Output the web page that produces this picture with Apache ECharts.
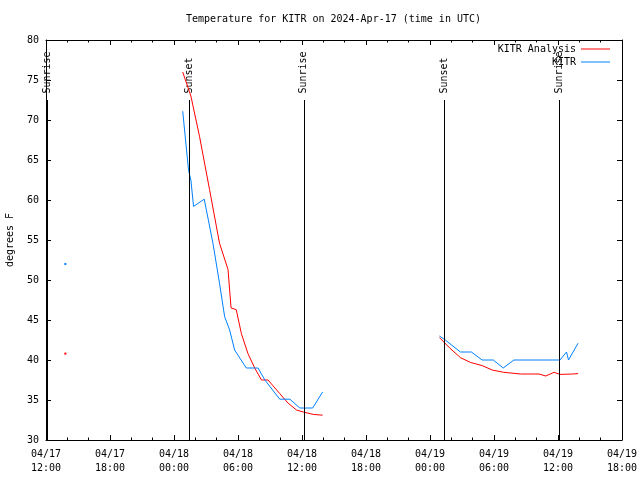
<!DOCTYPE html>
<html><head><meta charset="utf-8">
<script src="https://cdn.jsdelivr.net/npm/echarts@6/dist/echarts.min.js"></script>
<style>html,body{margin:0;padding:0;background:#fff}#c{width:640px;height:480px}</style>
</head><body><div id="c"></div>
<script>
const titleText = 'Temperature for KITR on 2024-Apr-17 (time in UTC)';
const yAxisName = 'degrees F';
const xStart = '2024-04-17T12:00';
const xEnd = '2024-04-19T18:00';
const yMin = 30, yMax = 80, yStep = 5;

// KITR Analysis (red); null = gap
const anaTimes = [
  '2024-04-18T00:49','2024-04-18T01:35','2024-04-18T02:24','2024-04-18T03:20','2024-04-18T04:16',
  '2024-04-18T05:04','2024-04-18T05:21','2024-04-18T05:50','2024-04-18T06:19','2024-04-18T06:56',
  '2024-04-18T07:34','2024-04-18T08:12','2024-04-18T08:49','2024-04-18T09:55','2024-04-18T10:42',
  '2024-04-18T11:29','2024-04-18T12:07','2024-04-18T13:03','2024-04-18T13:56',
  '2024-04-18T18:00',
  '2024-04-19T00:53','2024-04-19T01:51','2024-04-19T02:51','2024-04-19T03:47','2024-04-19T04:53',
  '2024-04-19T05:50','2024-04-19T06:55','2024-04-19T08:30','2024-04-19T10:13','2024-04-19T10:51',
  '2024-04-19T11:38','2024-04-19T12:11','2024-04-19T13:22','2024-04-19T13:53'
];
const anaTemps = [
  76.0, 73.0, 67.9, 61.3, 54.6,
  51.3, 46.5, 46.3, 43.3, 40.8,
  39.0, 37.5, 37.5, 35.8, 34.6,
  33.75, 33.5, 33.2, 33.1,
  null,
  42.8, 41.5, 40.3, 39.7, 39.3,
  38.75, 38.46, 38.25, 38.25, 38.0,
  38.46, 38.2, 38.25, 38.3
];

// KITR observations (blue); null = gap
const obsTimes = [
  '2024-04-18T00:49','2024-04-18T01:05','2024-04-18T01:22','2024-04-18T01:35','2024-04-18T01:50',
  '2024-04-18T02:50','2024-04-18T03:39','2024-04-18T04:16','2024-04-18T04:45','2024-04-18T05:13',
  '2024-04-18T05:41','2024-04-18T06:00','2024-04-18T06:47','2024-04-18T07:53','2024-04-18T08:31',
  '2024-04-18T09:55','2024-04-18T10:52','2024-04-18T11:48','2024-04-18T13:00','2024-04-18T13:56',
  '2024-04-18T18:00',
  '2024-04-19T00:53','2024-04-19T01:26','2024-04-19T02:51','2024-04-19T03:53','2024-04-19T04:53',
  '2024-04-19T05:56','2024-04-19T06:52','2024-04-19T07:52','2024-04-19T12:11','2024-04-19T12:48',
  '2024-04-19T12:59','2024-04-19T13:53'
];
const obsTemps = [
  71.1, 67.5, 63.7, 62.5, 59.2,
  60.1, 54.6, 49.6, 45.4, 43.75,
  41.25, 40.6, 39.0, 39.0, 37.5,
  35.1, 35.1, 34.0, 34.0, 36.0,
  null,
  43.0, 42.5, 41.0, 41.0, 40.0,
  40.0, 39.0, 40.0, 40.0, 41.0,
  40.0, 42.1
];

// isolated single readings
const isoTimes = ['2024-04-17T13:49'];
const isoAna = [40.8];
const isoObs = [52.0];

// sun events
const sunTimes = ['2024-04-17T12:08','2024-04-18T01:25','2024-04-18T12:10','2024-04-19T01:20','2024-04-19T12:06'];
const sunLabels = ['Sunrise','Sunset','Sunrise','Sunset','Sunrise'];
const sunLineTop = 72.5;
const sunLabelAt = 73.3;

const T = s => Date.parse(s + 'Z');
const pairs = (ts, vs) => ts.map((t, i) => [T(t), vs[i]]);
const p2 = n => String(n).padStart(2, '0');
const fmt = v => { const d = new Date(v); return p2(d.getUTCMonth()+1) + '/' + p2(d.getUTCDate()) + '\n' + p2(d.getUTCHours()) + ':' + p2(d.getUTCMinutes()); };

const FONT = 'DejaVu Sans Mono';
const RED = '#ff0000', BLUE = '#0080ff';
const HOUR = 3600000;

const xCommon = {
  type: 'value', min: T(xStart), max: T(xEnd), interval: 6 * HOUR,
  splitLine: { show: false },
  axisLine: { show: true, onZero: false, lineStyle: { color: '#000', width: 1 } },
  axisTick: { show: true, inside: true, length: 5, lineStyle: { color: '#000' } },
  minorTick: { show: true, splitNumber: 3, length: 2.5, lineStyle: { color: '#000' } }
};
const yCommon = {
  type: 'value', min: yMin, max: yMax, interval: yStep,
  splitLine: { show: false },
  axisLine: { show: true, onZero: false, lineStyle: { color: '#000', width: 1 } },
  axisTick: { show: true, inside: true, length: 5, lineStyle: { color: '#000' } }
};

const legendBase = { orient: 'vertical', right: 30, align: 'right', padding: 0,
  icon: 'rect', itemWidth: 29, itemHeight: 1, itemGap: 0, selectedMode: false,
  textStyle: { fontFamily: FONT, fontSize: 10, color: '#000', lineHeight: 10 } };

const chart = echarts.init(document.getElementById('c'), null, { renderer: 'canvas' });
chart.setOption({
  animation: false,
  backgroundColor: '#fff',
  textStyle: { fontFamily: FONT, fontSize: 10, color: '#000' },
  title: { text: titleText, left: 186, top: 13, padding: 0,
    textStyle: { fontFamily: FONT, fontSize: 10, fontWeight: 'normal', color: '#000', lineHeight: 12 } },
  grid: { left: 46, right: 18, top: 40, bottom: 40, containLabel: false, outerBoundsMode: 'none' },
  legend: [
    Object.assign({ data: ['KITR Analysis'], top: 44 }, legendBase),
    Object.assign({ data: ['KITR'], top: 57 }, legendBase)
  ],
  xAxis: [
    Object.assign({}, xCommon, { position: 'bottom',
      axisLabel: { show: true, formatter: fmt, margin: 8, lineHeight: 13.5, showMinLabel: true, showMaxLabel: true,
        fontFamily: FONT, fontSize: 10, color: '#000' } }),
    Object.assign({}, xCommon, { position: 'top', axisLabel: { show: false } })
  ],
  yAxis: [
    Object.assign({}, yCommon, { position: 'left', name: yAxisName, nameLocation: 'middle', nameGap: 31,
      nameRotate: 90, nameTextStyle: { fontFamily: FONT, fontSize: 10, color: '#000' },
      axisLabel: { show: true, margin: 7, fontFamily: FONT, fontSize: 10, color: '#000' } }),
    Object.assign({}, yCommon, { position: 'right', axisLabel: { show: false } })
  ],
  series: [
    { name: 'sun', type: 'scatter', xAxisIndex: 0, yAxisIndex: 0, symbolSize: 0, silent: true,
      itemStyle: { color: '#000', opacity: 1 },
      data: sunTimes.map(t => [T(t), sunLabelAt]),
      label: { show: true, rotate: 90, position: 'inside', align: 'left', verticalAlign: 'middle',
        textBorderWidth: 0, textShadowBlur: 0, opacity: 1,
        formatter: p => sunLabels[p.dataIndex], fontFamily: FONT, fontSize: 10, color: '#000' },
      markLine: { silent: true, symbol: ['none', 'none'], animation: false,
        label: { show: false },
        lineStyle: { color: '#000', width: 1, type: 'solid' },
        data: sunTimes.map(t => [{ coord: [T(t), sunLineTop] }, { coord: [T(t), yMin] }]) } },
    { name: 'KITR Analysis', type: 'line', xAxisIndex: 0, yAxisIndex: 0, showSymbol: false, symbol: 'none',
      connectNulls: false, color: RED, lineStyle: { color: RED, width: 1 },
      data: pairs(anaTimes, anaTemps) },
    { name: 'KITR', type: 'line', xAxisIndex: 0, yAxisIndex: 0, showSymbol: false, symbol: 'none',
      connectNulls: false, color: BLUE, lineStyle: { color: BLUE, width: 1 },
      data: pairs(obsTimes, obsTemps) },
    { name: 'anaIso', type: 'scatter', symbol: 'rect', symbolSize: 2, itemStyle: { color: RED, opacity: 1 },
      data: pairs(isoTimes, isoAna) },
    { name: 'obsIso', type: 'scatter', symbol: 'rect', symbolSize: 2, itemStyle: { color: BLUE, opacity: 1 },
      data: pairs(isoTimes, isoObs) }
  ]
});
</script></body></html>
